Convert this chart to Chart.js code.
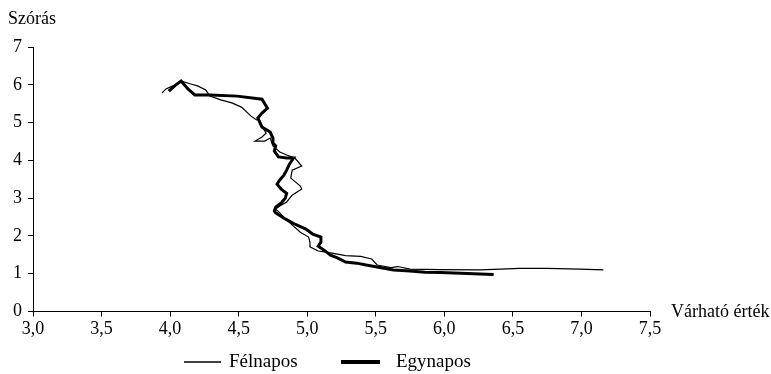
<!DOCTYPE html>
<html>
<head>
<meta charset="utf-8">
<script src="https://cdn.jsdelivr.net/npm/chart.js@4.4.0/dist/chart.umd.min.js"></script>
<style>
  html, body { margin: 0; padding: 0; background: #fff; }
</style>
</head>
<body>
<canvas id="myChart" width="771" height="374"></canvas>
<script>
// tick values and labels
var xTicks = [3.0, 3.5, 4.0, 4.5, 5.0, 5.5, 6.0, 6.5, 7.0, 7.5];
var xTickLabels = ["3,0", "3,5", "4,0", "4,5", "5,0", "5,5", "6,0", "6,5", "7,0", "7,5"];
var yTicks = [0, 1, 2, 3, 4, 5, 6, 7];
var yTickLabels = ["0", "1", "2", "3", "4", "5", "6", "7"];
var xTitle = "Várható érték";
var yTitle = "Szórás";

// Félnapos (thin line) - expected value / deviation
var felnaposX = [3.94, 3.97, 4.02, 4.06, 4.08, 4.15, 4.20, 4.26, 4.29, 4.37, 4.45, 4.52, 4.59, 4.63, 4.65, 4.67, 4.70, 4.67, 4.62, 4.69,
  4.73, 4.75, 4.80, 4.85, 4.91, 4.96, 4.89, 4.88, 4.95, 4.96, 4.89, 4.85, 4.80, 4.77, 4.80, 4.85, 4.90, 4.95, 5.01, 5.02,
  5.02, 5.08, 5.17, 5.28, 5.39, 5.47, 5.51, 5.61, 5.66, 5.75, 5.97, 6.26, 6.41, 6.55, 6.75, 6.99, 7.16];
var felnaposY = [5.78, 5.89, 5.97, 6.04, 6.10, 6.02, 5.97, 5.86, 5.70, 5.60, 5.52, 5.41, 5.17, 5.07, 5.09, 4.91, 4.72, 4.62, 4.51, 4.51,
  4.59, 4.38, 4.22, 4.14, 4.06, 3.85, 3.74, 3.53, 3.32, 3.24, 3.08, 2.90, 2.79, 2.71, 2.61, 2.42, 2.26, 2.10, 1.97, 1.84,
  1.71, 1.60, 1.55, 1.48, 1.46, 1.39, 1.23, 1.16, 1.19, 1.12, 1.11, 1.10, 1.12, 1.14, 1.14, 1.12, 1.10];

// Egynapos (thick line)
var egynaposX = [3.99, 4.04, 4.08, 4.13, 4.18, 4.29, 4.49, 4.67, 4.71, 4.67, 4.64, 4.67, 4.73, 4.75, 4.75, 4.77, 4.76, 4.79, 4.85, 4.90,
  4.87, 4.85, 4.83, 4.80, 4.78, 4.81, 4.85, 4.84, 4.81, 4.77, 4.76, 4.77, 4.84, 4.91, 4.99, 5.04, 5.10, 5.10, 5.08, 5.12,
  5.17, 5.22, 5.28, 5.36, 5.43, 5.48, 5.55, 5.63, 5.75, 5.86, 5.97, 6.12, 6.26, 6.36];
var egynaposY = [5.83, 5.99, 6.10, 5.89, 5.73, 5.73, 5.70, 5.62, 5.38, 5.25, 5.12, 4.88, 4.75, 4.59, 4.46, 4.38, 4.25, 4.09, 4.06, 4.06,
  3.90, 3.74, 3.61, 3.48, 3.37, 3.24, 3.13, 3.00, 2.87, 2.76, 2.66, 2.61, 2.45, 2.31, 2.18, 2.05, 1.97, 1.84, 1.73, 1.63,
  1.49, 1.42, 1.31, 1.28, 1.23, 1.20, 1.15, 1.10, 1.07, 1.04, 1.03, 1.01, 0.99, 0.98];

var serif = '"Liberation Serif", "Times New Roman", serif';

function toPoints(xs, ys) {
  var pts = [];
  for (var i = 0; i < xs.length; i++) {
    pts.push({x: xs[i], y: ys[i]});
  }
  return pts;
}

//titles + legend drawn by hand
var textPlugin = {
  id: 'textPlugin',
  afterDraw: function(chart) {
    var ctx = chart.ctx;
    ctx.save();
    ctx.fillStyle = '#000';
    ctx.strokeStyle = '#000';
    ctx.font = '18px ' + serif;
    ctx.textBaseline = 'middle';
    ctx.fillText(yTitle, 8, 19);
    ctx.fillText(xTitle, 671, 312);

    //legend
    ctx.font = '19px ' + serif;
    ctx.lineWidth = 1.6;
    ctx.beginPath();
    ctx.moveTo(184, 362);
    ctx.lineTo(221, 362);
    ctx.stroke();
    ctx.fillText("Félnapos", 229, 362);

    ctx.lineWidth = 4;
    ctx.beginPath();
    ctx.moveTo(341, 362);
    ctx.lineTo(380, 362);
    ctx.stroke();
    ctx.fillText("Egynapos", 396, 362);
    ctx.restore();
  }
};

var ctx = document.getElementById('myChart').getContext('2d');
var chart = new Chart(ctx, {
  type: 'scatter',
  data: {
    datasets: [{
        label: "Félnapos",
        data: toPoints(felnaposX, felnaposY),
        showLine: true,
        borderColor: '#000',
        borderWidth: 1.2,
        pointRadius: 0,
        tension: 0
      },
      {
        label: "Egynapos",
        data: toPoints(egynaposX, egynaposY),
        showLine: true,
        borderColor: '#000',
        borderWidth: 3,
        pointRadius: 0,
        tension: 0
      }
    ]
  },
  options: {
    responsive: false,
    animation: false,
    devicePixelRatio: 1,
    layout: {
      padding: {left: 0, top: 47, right: 121, bottom: 0}
    },
    plugins: {
      legend: {display: false},
      tooltip: {enabled: false}
    },
    scales: {
      x: {
        type: 'linear',
        min: 3,
        max: 7.5,
        afterBuildTicks: function(scale) {
          scale.ticks = xTicks.map(function(v) { return {value: v}; });
        },
        afterFit: function(scale) { scale.height = 62.5; },
        ticks: {
          autoSkip: false,
          maxRotation: 0,
          padding: 2,
          color: '#000',
          font: {family: serif, size: 18},
          callback: function(value, index) { return xTickLabels[index]; }
        },
        grid: {drawOnChartArea: false, drawTicks: true, tickLength: 5, color: '#000'},
        border: {color: '#000', width: 1}
      },
      y: {
        type: 'linear',
        min: 0,
        max: 7,
        afterBuildTicks: function(scale) {
          scale.ticks = yTicks.map(function(v) { return {value: v}; });
        },
        afterFit: function(scale) { scale.width = 33; },
        ticks: {
          autoSkip: false,
          padding: 6,
          color: '#000',
          font: {family: serif, size: 18},
          callback: function(value, index) { return yTickLabels[index]; }
        },
        grid: {drawOnChartArea: false, drawTicks: true, tickLength: 5, color: '#000'},
        border: {color: '#000', width: 1}
      }
    }
  },
  plugins: [textPlugin]
});
</script>
</body>
</html>
